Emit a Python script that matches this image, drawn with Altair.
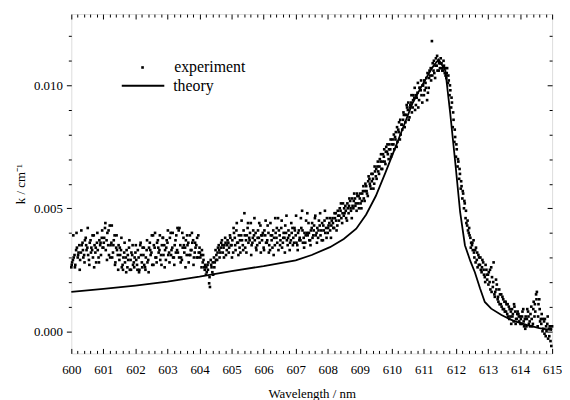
import altair as alt
import pandas as pd

# ---------------- data (k values in units of 1e-3 cm^-1) ----------------
scan1_start = 600.0
scan2_start = 600.025
scan3_start = 600.0125
scan_step = 0.05

scan1_k = [
    2.6, 2.9, 3.1, 3.3, 3.0, 3.5, 3.2, 3.6, 3.1, 3.8, 3.4, 2.9, 3.7, 3.3, 3.9, 3.2, 3.6, 3.0, 3.5, 3.8,
    3.4, 4.2, 3.7, 3.5, 4.3, 3.6, 3.2, 3.9, 3.4, 3.1, 2.9, 3.3, 2.7, 3.2, 3.0, 2.6, 3.4, 2.9, 3.1, 2.8,
    3.2, 2.7, 3.0, 3.5, 2.8, 3.1, 2.6, 3.3, 2.9, 3.6, 3.2, 3.9, 3.4, 3.0, 3.7, 3.3, 3.1, 3.8, 3.5, 2.9,
    3.6, 3.2, 4.0, 3.4, 3.0, 3.7, 3.3, 4.1, 3.5, 2.9, 3.8, 3.4, 3.1, 3.6, 3.9, 3.3, 3.7, 3.2, 3.5, 3.0,
    3.4, 3.1, 2.8, 2.6, 2.3, 2.7, 1.95, 2.9, 2.4, 3.0, 3.3, 2.9, 3.5, 3.2, 3.7, 3.4, 3.8, 3.3, 3.6, 3.9,
    3.5, 3.2, 3.8, 4.1, 3.6, 3.4, 3.9, 3.5, 4.8, 3.7, 4.2, 3.8, 4.4, 3.6, 3.9, 4.0, 3.5, 3.8, 4.3, 3.7,
    3.4, 3.9, 3.6, 4.0, 3.3, 3.7, 4.1, 3.5, 3.8, 4.6, 3.9, 4.2, 3.6, 3.8, 4.0, 3.5, 3.9, 3.7, 4.2, 3.6,
    3.9, 3.5, 4.1, 3.7, 4.9, 3.8, 3.6, 4.0, 4.4, 3.7, 4.2, 3.9, 4.6, 4.0, 3.8, 4.3, 4.1, 3.7, 4.5, 4.2,
    4.0, 4.4, 3.8, 4.6, 4.2, 4.8, 4.3, 4.5, 4.9, 4.4, 4.7, 5.1, 4.5, 4.8, 5.3, 4.6, 5.0, 5.4, 4.9, 5.2,
    5.4, 5.0, 5.7, 5.3, 5.9, 5.5, 6.2, 5.8, 6.4, 6.0, 6.3, 6.7, 6.4, 6.9, 6.6, 7.1, 6.8, 7.3, 7.0, 7.4,
    7.2, 7.6, 7.9, 7.5, 8.2, 7.8, 8.4, 8.6, 8.3, 8.8, 9.0, 8.7, 9.3, 9.1, 9.5, 9.2, 9.7, 9.4, 9.8, 9.3,
    9.6, 10.1, 9.4, 9.9, 10.4, 11.8, 10.6, 10.3, 10.8, 11.0, 10.7, 10.9, 10.6, 10.5, 10.3, 10.1, 9.6, 9.1, 8.3, 7.7,
    7.1, 6.7, 6.2, 5.8, 5.4, 5.0, 4.6, 4.3, 4.0, 3.8, 3.5, 3.7, 3.3, 2.9, 3.1, 2.7, 2.4, 2.8, 2.2, 2.5,
    2.3, 2.0, 2.6, 1.8, 1.5, 2.1, 1.3, 1.7, 1.1, 1.4, 0.9, 1.2, 0.7, 1.0, 0.6, 0.9, 0.4, 0.8, 0.5, 0.7,
    0.6, 0.3, 0.9, 0.5, 0.2, 0.8, 0.4, 1.0, 0.3, 0.6, 1.5, 0.2, 1.3, 0.5, 0.0, 0.4, -0.2, 0.3, 0.1, -0.4,
    0.2,
]

scan2_k = [
    2.8, 3.0, 2.7, 3.4, 3.2, 2.9, 3.5, 3.0, 3.7, 3.3, 3.1, 3.6, 3.4, 3.0, 3.5, 2.8, 3.3, 3.7, 3.1, 3.4,
    3.8, 3.3, 4.0, 3.1, 3.5, 3.0, 3.7, 2.8, 3.3, 3.5, 3.1, 2.6, 3.0, 2.8, 3.3, 2.9, 2.5, 3.2, 2.7, 3.0,
    2.9, 3.3, 2.5, 3.1, 3.4, 2.7, 3.0, 2.8, 3.4, 3.1, 2.7, 3.5, 3.0, 3.6, 3.2, 2.9, 3.5, 3.1, 3.3, 3.7,
    3.1, 3.8, 3.3, 3.0, 3.5, 3.9, 3.2, 4.2, 3.0, 3.4, 3.2, 3.7, 3.5, 3.1, 3.3, 3.6, 3.0, 3.4, 3.8, 3.2,
    3.0, 3.3, 2.9, 2.7, 2.4, 2.8, 1.8, 2.6, 2.3, 2.8, 3.1, 3.4, 3.0, 3.6, 3.2, 3.5, 3.1, 3.7, 3.4, 3.5,
    3.7, 4.0, 3.3, 3.6, 3.9, 3.2, 3.7, 4.1, 3.4, 3.9, 3.6, 4.0, 3.5, 4.1, 3.7, 3.3, 4.1, 3.6, 3.9, 4.0,
    4.1, 3.6, 4.3, 3.5, 3.9, 3.4, 3.8, 4.0, 3.6, 4.1, 3.7, 3.4, 4.0, 4.3, 3.7, 4.1, 3.6, 4.0, 3.8, 4.1,
    3.6, 4.0, 3.8, 4.2, 3.6, 4.0, 4.5, 3.9, 3.7, 4.1, 3.8, 4.3, 3.9, 4.2, 4.5, 3.9, 4.4, 4.1, 4.0, 4.6,
    4.3, 4.1, 4.5, 4.2, 4.6, 4.1, 4.7, 5.0, 4.6, 5.2, 4.8, 4.6, 5.0, 5.4, 4.9, 5.1, 5.6, 5.2, 5.5, 5.0,
    5.2, 5.6, 5.4, 6.0, 5.6, 6.3, 5.9, 6.1, 5.8, 6.5, 6.2, 6.5, 7.0, 6.6, 7.2, 6.9, 7.5, 7.2, 7.6, 7.1,
    7.8, 7.4, 8.1, 7.7, 8.5, 8.0, 8.2, 8.8, 8.5, 9.1, 8.6, 9.2, 8.9, 9.6, 9.0, 9.5, 9.1, 9.9, 9.6, 10.0,
    9.8, 10.3, 9.7, 10.6, 10.2, 10.9, 10.5, 11.1, 10.6, 10.9, 11.1, 10.6, 10.8, 10.4, 10.7, 10.2, 9.8, 9.3, 8.6, 7.9,
    7.4, 6.9, 6.4, 5.9, 5.6, 5.2, 4.4, 4.1, 3.9, 3.6, 3.3, 3.0, 3.4, 2.6, 3.0, 2.5, 2.9, 2.3, 2.7, 2.1,
    2.4, 1.7, 2.2, 2.8, 1.6, 1.9, 1.2, 1.5, 1.0, 1.3, 0.8, 1.1, 0.6, 0.9, 0.3, 0.7, 1.0, 0.5, 0.8, 0.4,
    0.5, 0.8, 0.2, 0.6, 0.9, 0.3, 0.7, 0.2, 1.2, 0.8, 1.6, 1.1, 0.4, 0.7, 0.1, 0.5, 0.0, -0.3, 0.2, -0.6,
]

scan3_k = [
    2.7, 3.9, 2.6, 4.0, 3.1, 2.5, 4.1, 3.3, 2.8, 3.5, 4.2, 2.7, 3.2, 3.9, 2.6, 3.4, 4.0, 2.8, 3.6, 4.1,
    3.6, 4.4, 2.9, 4.1, 3.0, 4.3, 3.5, 2.7, 3.9, 2.5, 3.4, 3.8, 2.5, 3.6, 2.4, 3.1, 3.7, 2.5, 3.5, 2.6,
    3.5, 2.5, 2.4, 3.6, 2.6, 3.4, 2.5, 3.7, 2.4, 3.3, 3.9, 2.7, 4.0, 2.8, 3.4, 3.9, 2.7, 3.8, 2.6, 3.4,
    4.1, 2.8, 3.1, 4.0, 2.7, 3.2, 4.2, 3.0, 2.8, 4.0, 3.5, 2.6, 3.9, 2.8, 3.1, 4.0, 2.7, 3.6, 3.0, 3.9,
    3.2, 2.6, 3.1, 2.5, 2.6, 2.5, 2.2, 2.7, 2.8, 2.6, 2.9, 3.2, 3.3, 3.4, 3.5, 3.0, 3.6, 3.5, 3.2, 3.8,
    3.0, 4.2, 3.5, 4.4, 3.1, 3.7, 4.5, 3.3, 3.9, 3.2, 4.4, 3.7, 3.1, 3.8, 4.6, 3.4, 3.8, 4.4, 3.2, 3.9,
    3.3, 4.5, 3.7, 3.2, 4.4, 3.9, 3.1, 4.6, 4.2, 3.3, 3.5, 4.5, 3.8, 3.2, 4.7, 3.8, 3.3, 4.4, 3.5, 4.2,
    4.7, 3.3, 3.7, 4.6, 4.1, 3.4, 3.9, 4.8, 4.0, 3.5, 4.4, 4.1, 4.7, 3.6, 4.1, 4.8, 3.7, 4.3, 4.9, 3.8,
    4.2, 4.6, 4.3, 4.4, 4.8, 4.5, 4.9, 4.7, 5.2, 4.8, 5.0, 4.9, 5.2, 5.1, 5.0, 5.4, 5.3, 5.1, 5.6, 5.5,
    5.6, 5.3, 5.9, 5.7, 5.7, 6.1, 6.0, 6.4, 6.2, 6.7, 6.6, 6.9, 6.7, 7.2, 6.9, 7.4, 7.3, 7.6, 7.4, 7.8,
    7.6, 8.0, 7.8, 8.3, 8.1, 8.6, 8.4, 8.9, 8.8, 9.2, 9.3, 9.1, 9.6, 9.4, 9.9, 9.6, 10.1, 9.9, 10.2, 10.0,
    10.2, 9.9, 10.5, 10.3, 10.7, 10.4, 11.0, 10.8, 11.2, 10.6, 10.9, 10.7, 11.0, 10.7, 10.5, 10.4, 10.0, 9.5, 8.9, 8.2,
    7.6, 7.0, 6.6, 6.1, 5.7, 5.3, 4.9, 4.5, 4.2, 3.4, 3.6, 3.2, 2.8, 3.2, 2.7, 3.0, 2.6, 2.5, 2.0, 2.3,
    1.9, 2.5, 1.6, 2.0, 1.4, 1.7, 1.4, 1.1, 1.5, 0.9, 1.2, 0.8, 1.1, 0.5, 0.8, 0.6, 1.1, 0.3, 0.7, 0.6,
    0.3, 0.6, 0.4, 0.1, 0.5, 0.6, 0.2, 0.5, 0.9, 1.1, 1.3, 0.6, 0.9, 0.3, 0.5, -0.1, 0.2, 0.6, -0.2, 0.1,
]

theory_wl = [600.0, 601.0, 602.0, 603.0, 604.0, 605.0, 606.0, 607.0, 607.5, 608.07, 608.5, 608.89,
             609.2, 609.5, 609.8, 610.12, 610.4, 610.64, 610.9, 611.15, 611.3, 611.46, 611.67, 611.82,
             611.98, 612.13, 612.28, 612.45, 612.59, 612.75, 612.9, 613.1, 613.42, 613.8, 614.23,
             614.6, 615.0]
theory_k = [1.6, 1.72, 1.86, 2.02, 2.22, 2.45, 2.65, 2.88, 3.1, 3.42, 3.75, 4.17,
            4.75, 5.5, 6.45, 7.51, 8.45, 9.26, 9.9, 10.47, 10.8, 11.05, 10.6, 8.88,
            6.85, 4.85, 3.5, 2.85, 2.4, 1.75, 1.19, 0.92, 0.66, 0.42, 0.25,
            0.13, 0.05]

x_major = list(range(600, 616))
x_minor = [round(600 + 0.2 * i, 1) for i in range(76) if i % 5 != 0]
y_major = [0.0, 0.005, 0.010]
y_minor = [0.001, 0.002, 0.003, 0.004, 0.006, 0.007, 0.008, 0.009, 0.011, 0.012]

# ---------------- tables ----------------
exp_wl = [round(scan1_start + scan_step * i, 4) for i in range(len(scan1_k))] + \
         [round(scan2_start + scan_step * i, 4) for i in range(len(scan2_k))] + \
         [round(scan3_start + scan_step * i, 4) for i in range(len(scan3_k))]
exp_df = pd.DataFrame({"wl": exp_wl,
                       "k": [v * 1e-3 for v in scan1_k + scan2_k + scan3_k],
                       "series": "experiment"})
th_df = pd.DataFrame({"wl": theory_wl, "k": [v * 1e-3 for v in theory_k], "series": "theory"})

W, H = 486, 343
FONT = "Liberation Serif"

xs = alt.Scale(domain=[600, 615], nice=False, zero=False)
ys = alt.Scale(domain=[-0.0009, 0.0129], nice=False, zero=False)

common = dict(domain=False, grid=False, tickColor="black", labelColor="black",
              labelFont=FONT, labelFontSize=13, titleFont=FONT, titleFontSize=13,
              titleFontWeight="normal", titleColor="black", tickWidth=1, labelFlush=False)


def tick_axis(orient, values, size, offset=0):
    return alt.Axis(orient=orient, values=values, labels=False, tickSize=size,
                    offset=offset, title=None, **common)


pts = alt.Chart(exp_df).mark_point(filled=True, size=7, color="black", opacity=1).encode(
    x=alt.X("wl:Q", scale=xs,
            axis=alt.Axis(orient="bottom", values=x_major, format="d", ticks=False, tickSize=0,
                          labelPadding=10, title="Wavelength / nm", titlePadding=12, **common)),
    y=alt.Y("k:Q", scale=ys,
            axis=alt.Axis(orient="left", values=y_major, format=".3f", tickSize=5,
                          labelPadding=4, title="k / cm⁻¹", titlePadding=6, **common)),
    shape=alt.Shape("series:N", scale=alt.Scale(domain=["experiment"], range=["square"]),
                    legend=alt.Legend(title=None, orient="none", legendX=64, legendY=46,
                                      symbolSize=7, symbolFillColor="black", symbolStrokeWidth=0,
                                      labelOffset=24, labelFont=FONT, labelFontSize=16,
                                      labelColor="black", padding=0)),
)

line = alt.Chart(th_df).mark_line(color="black", strokeWidth=1.8).encode(
    x=alt.X("wl:Q", scale=xs, axis=tick_axis("top", x_major, 5, offset=-H)),
    y=alt.Y("k:Q", scale=ys, axis=tick_axis("left", y_minor, 3)),
    color=alt.Color("series:N", scale=alt.Scale(domain=["theory"], range=["black"]),
                    legend=alt.Legend(title=None, orient="none", legendX=50, legendY=50,
                                      symbolType="stroke", symbolSize=1849, symbolStrokeWidth=2,
                                      symbolStrokeColor="black", labelOffset=8, labelFont=FONT,
                                      labelFontSize=16, labelColor="black", padding=0)),
)

ax3 = alt.Chart(th_df).mark_line(opacity=0).encode(
    x=alt.X("wl:Q", scale=xs, axis=tick_axis("top", x_minor, 3, offset=-H)),
    y=alt.Y("k:Q", scale=ys, axis=tick_axis("left", y_major, 5, offset=-W)),
)
ax4 = alt.Chart(th_df).mark_line(opacity=0).encode(
    x=alt.X("wl:Q", scale=xs, axis=tick_axis("bottom", x_major, 5, offset=-H)),
    y=alt.Y("k:Q", scale=ys, axis=tick_axis("left", y_minor, 3, offset=-W)),
)
ax5 = alt.Chart(th_df).mark_line(opacity=0).encode(
    x=alt.X("wl:Q", scale=xs, axis=tick_axis("bottom", x_minor, 3, offset=-H)),
    y=alt.Y("k:Q", scale=ys, axis=None),
)

chart = alt.layer(pts, line, ax3, ax4, ax5).resolve_axis(
    x="independent", y="independent"
).resolve_legend(
    shape="independent", color="independent"
).properties(
    width=W, height=H,
    autosize=alt.AutoSizeParams(type="none"),
    padding={"left": 64, "top": 4, "right": 10, "bottom": 45},
).configure_view(
    stroke="black", strokeWidth=1
).configure_axis(
    labelFont=FONT, titleFont=FONT
).configure_legend(
    labelFont=FONT
).configure(background="white", font=FONT)

chart.save("out.html", embed_options={"renderer": "svg", "actions": False})
